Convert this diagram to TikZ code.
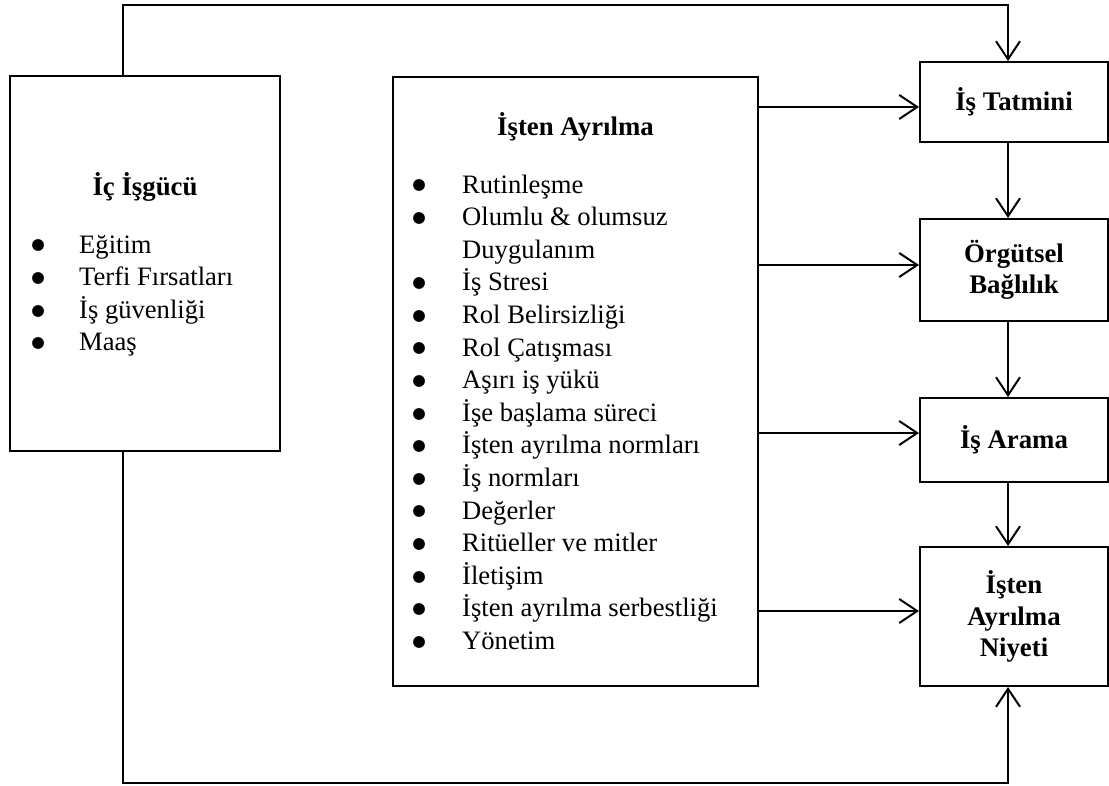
\documentclass[tikz,border=0pt]{standalone}
\usepackage{fontspec}
\setmainfont{Liberation Serif}
\newfontfamily\dotfont{DejaVu Sans}
\usetikzlibrary{arrows.meta}
% list bullet: a solid dot centred on the line start
\newcommand{\bigdot}{\makebox[0pt]{\raisebox{3.2pt}{\dotfont\fontsize{15.5}{15.5}\selectfont ●}}}
% one list line: bullet, then the text after a fixed indent
\newcommand{\blitem}[2]{\bigdot\hspace*{#1}#2}
\begin{document}
\begin{tikzpicture}[x=1pt,y=-1pt,
  box/.style={draw,line width=2pt,inner sep=0pt},
  conn/.style={line width=2pt},
  arr/.style={conn,-{Straight Barb[length=18pt,width=24pt,line width=2pt]}},
  title/.style={font=\fontsize{26.8}{32}\selectfont\bfseries,inner sep=0pt},
  rbox/.style={box,minimum width=188pt,align=center,
    font=\fontsize{26.8}{31.5}\selectfont\bfseries},
  listtext/.style={font=\fontsize{26.6}{32.6}\selectfont,inner sep=0pt},
]
\useasboundingbox (0,0) rectangle (1109,785);

% boxes
\node[box,minimum width=270pt,minimum height=375pt] (ic) at (145,263.5) {};
\node[box,minimum width=365pt,minimum height=609pt] (ayr) at (575.5,381.5) {};
\node[rbox,minimum height=80pt]  (tatmin) at (1014,102)   {İş Tatmini};
\node[rbox,minimum height=102pt] (orgut)  at (1014,270)   {Örgütsel\\Bağlılık};
\node[rbox,minimum height=84pt]  (arama)  at (1014,440)   {İş Arama};
\node[rbox,minimum height=139pt] (niyet)  at (1014,616.5) {İşten\\Ayrılma\\Niyeti};

% titles and lists
\node[title,anchor=base] (ictitle) at (145,195) {İç İşgücü};
\node[title,anchor=base] (ayrtitle) at (575.5,135) {İşten Ayrılma};

\node[listtext,anchor=base west] (iclist) at (38,253) {\parbox[t]{235pt}{\raggedright
  \blitem{41pt}{Eğitim}\\
  \blitem{41pt}{Terfi Fırsatları}\\
  \blitem{41pt}{İş güvenliği}\\
  \blitem{41pt}{Maaş}}};

\node[listtext,anchor=base west] (ayrlist) at (419,193) {\parbox[t]{330pt}{\raggedright
  \blitem{43pt}{Rutinleşme}\\
  \blitem{43pt}{Olumlu \& olumsuz}\\
  \hspace*{43pt}Duygulanım\\
  \blitem{43pt}{İş Stresi}\\
  \blitem{43pt}{Rol Belirsizliği}\\
  \blitem{43pt}{Rol Çatışması}\\
  \blitem{43pt}{Aşırı iş yükü}\\
  \blitem{43pt}{İşe başlama süreci}\\
  \blitem{43pt}{İşten ayrılma normları}\\
  \blitem{43pt}{İş normları}\\
  \blitem{43pt}{Değerler}\\
  \blitem{43pt}{Ritüeller ve mitler}\\
  \blitem{43pt}{İletişim}\\
  \blitem{43pt}{İşten ayrılma serbestliği}\\
  \blitem{43pt}{Yönetim}}};

% guide coordinates for the connectors
\coordinate (lx) at (123,0);
\coordinate (spine) at (1008,0);
\coordinate (ctop) at (1008,5);
\coordinate (cbot) at (1008,783);
\coordinate (r1) at (0,107);
\coordinate (r2) at (0,265);
\coordinate (r3) at (0,433);
\coordinate (r4) at (0,611);

% connectors
\draw[arr] (ic.north -| lx) |- (ctop) -- (tatmin.north -| spine);
\draw[arr] (ic.south -| lx) |- (cbot) -- (niyet.south -| spine);
\draw[arr] (tatmin.south -| spine) -- (orgut.north -| spine);
\draw[arr] (orgut.south -| spine) -- (arama.north -| spine);
\draw[arr] (arama.south -| spine) -- (niyet.north -| spine);
\draw[arr] (ayr.east |- r1) -- (tatmin.west |- r1);
\draw[arr] (ayr.east |- r2) -- (orgut.west |- r2);
\draw[arr] (ayr.east |- r3) -- (arama.west |- r3);
\draw[arr] (ayr.east |- r4) -- (niyet.west |- r4);
\end{tikzpicture}
\end{document}
